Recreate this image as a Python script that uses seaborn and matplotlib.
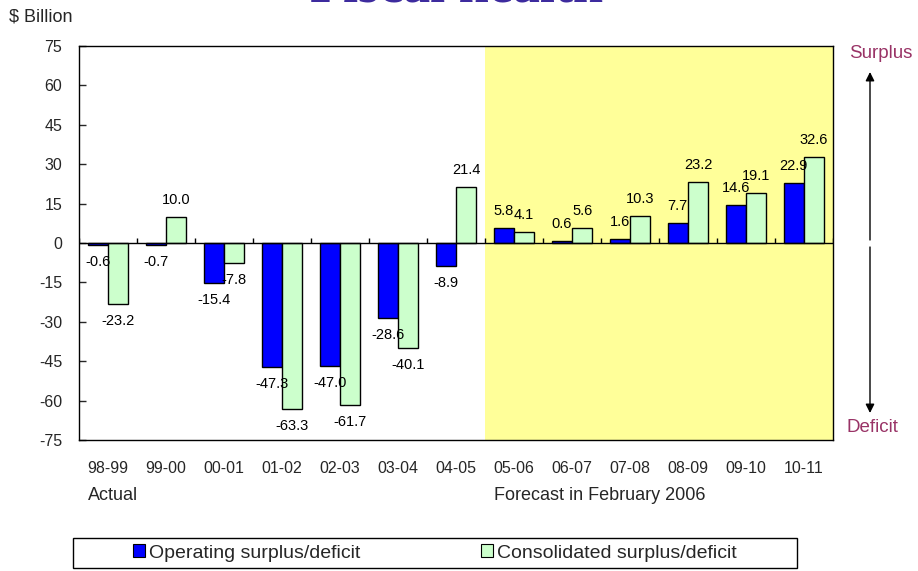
import pandas as pd
import seaborn as sns
import matplotlib
matplotlib.use("Agg")
import matplotlib.pyplot as plt
from matplotlib.patches import Patch, Rectangle, FancyArrowPatch

years = ["98-99", "99-00", "00-01", "01-02", "02-03", "03-04", "04-05",
         "05-06", "06-07", "07-08", "08-09", "09-10", "10-11"]
operating = [-0.6, -0.7, -15.4, -47.3, -47.0, -28.6, -8.9,
             5.8, 0.6, 1.6, 7.7, 14.6, 22.9]
consolidated = [-23.2, 10.0, -7.8, -63.3, -61.7, -40.1, 21.4,
                4.1, 5.6, 10.3, 23.2, 19.1, 32.6]
series_names = ["Operating surplus/deficit", "Consolidated surplus/deficit"]
y_ticks = list(range(-75, 76, 15))

blue = "#0000FF"
green = "#CCFFCC"
plum = "#993366"

sns.set_style("white")
plt.rcParams["font.family"] = ["Liberation Sans", "DejaVu Sans"]

df = pd.DataFrame({
    "year": years * 2,
    "value": operating + consolidated,
    "series": [series_names[0]] * len(years) + [series_names[1]] * len(years),
})

W, H = 918, 571
fig = plt.figure(figsize=(W / 100, H / 100), dpi=100)
ax = fig.add_axes([79 / W, 1 - 440 / H, (833 - 79) / W, (440 - 46) / H])

# forecast period background
ax.axvspan(6.5, 12.5, color="#FFFF99", zorder=0, lw=0)

sns.barplot(data=df, x="year", y="value", hue="series", order=years,
            hue_order=series_names, palette=[blue, green], width=0.7,
            edgecolor="black", linewidth=1, saturation=1, legend=False,
            ax=ax, zorder=2)

# data labels
for cont in ax.containers:
    for bar in cont:
        v = bar.get_height()
        xc = bar.get_x() + bar.get_width() / 2
        off = 17 if v >= 0 else -17
        ax.annotate(f"{v:.1f}", (xc, v), xytext=(0, off), textcoords="offset pixels",
                    ha="center", va="center", fontsize=10.5, color="black", zorder=5)

ax.axhline(0, color="black", lw=1, zorder=3)
ax.vlines([i + 0.5 for i in range(-1, len(years))], 0, 1.9, color="black", lw=1, zorder=3)

ax.set_xlim(-0.5, len(years) - 0.5)
ax.set_ylim(-75, 75)
ax.set_yticks(y_ticks)
ax.set_yticklabels([str(t) for t in y_ticks], fontsize=11.5)
ax.tick_params(axis="y", direction="in", length=5, width=1, pad=12, left=True)
ax.set_xticks(range(len(years)))
ax.set_xticklabels(years, fontsize=11.5)
ax.tick_params(axis="x", length=0, pad=15)
ax.set_xlabel("")
ax.set_ylabel("")
for s in ax.spines.values():
    s.set_color("black")
    s.set_linewidth(1)

# texts around the plot (title is mostly cut off at the top, as in the original)
fig.text(457 / W, 1 - 2 / H, "Fiscal health", ha="center", va="baseline",
         fontsize=39, fontweight="bold", family="Liberation Serif", color="#3D2B9E")
fig.text(9 / W, 1 - 17 / H, "$ Billion", ha="left", va="center", fontsize=13)
fig.text(88 / W, 1 - 496 / H, "Actual", ha="left", va="center", fontsize=13)
fig.text(494 / W, 1 - 496 / H, "Forecast in February 2006", ha="left", va="center", fontsize=13)
fig.text(881 / W, 1 - 53 / H, "Surplus", ha="center", va="center", fontsize=13.5, color=plum)
fig.text(872 / W, 1 - 428 / H, "Deficit", ha="center", va="center", fontsize=13.5, color=plum)

arrow = dict(arrowstyle="-|>", color="black", lw=1, mutation_scale=13, shrinkA=0, shrinkB=0)
fig.add_artist(FancyArrowPatch((870 / W, 1 - 240 / H), (870 / W, 1 - 72 / H),
                               transform=fig.transFigure, **arrow))
fig.add_artist(FancyArrowPatch((870 / W, 1 - 247 / H), (870 / W, 1 - 413 / H),
                               transform=fig.transFigure, **arrow))

# legend box
fig.patches.append(Rectangle((73 / W, 1 - 568 / H), 724 / W, 30 / H, transform=fig.transFigure,
                             facecolor="white", edgecolor="black", lw=1))
handles = [Patch(facecolor=blue, edgecolor="black", lw=0.8),
           Patch(facecolor=green, edgecolor="black", lw=0.8)]
fig.legend(handles, series_names, loc="center left", bbox_to_anchor=(133 / W, 1 - 553 / H),
           ncol=2, frameon=False, fontsize=14, handlelength=0.62, handleheight=0.62,
           handletextpad=0.2, columnspacing=6.2, borderpad=0, borderaxespad=0)

fig.savefig("out.png", dpi=100)
